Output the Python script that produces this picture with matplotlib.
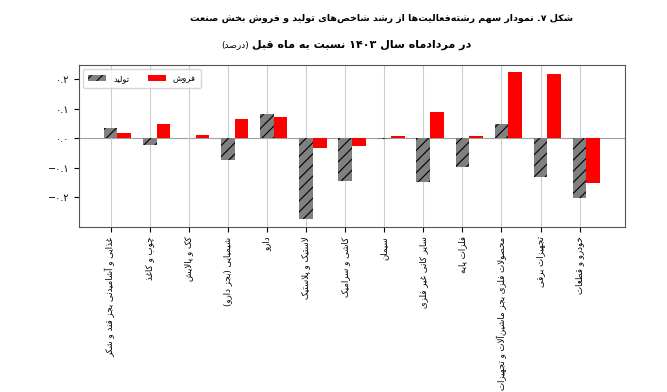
import re
import numpy as np
import matplotlib
matplotlib.use('Agg')
from matplotlib import pyplot as plt

# داده‌ها (سهم از رشد، درصد)
categories = ['غذایی و آشامیدنی بجز قند و شکر', 'چوب و کاغذ', 'کک و پالایش',
              'شیمیایی (بجز دارو)', 'دارو', 'لاستیک و پلاستیک', 'کاشی و سرامیک',
              'سیمان', 'سایر کانی غیر فلزی', 'فلزات پایه',
              'محصولات فلزی بجز ماشین‌آلات و تجهیزات', 'تجهیزات برقی', 'خودرو و قطعات']
production = [0.033, -0.024, 0.0, -0.073, 0.082, -0.274, -0.144,
              -0.002, -0.149, -0.098, 0.049, -0.131, -0.201]
sales = [0.017, 0.049, 0.009, 0.065, 0.070, -0.032, -0.026,
         0.008, 0.088, 0.006, 0.222, 0.217, -0.151]
ytick_vals = [-0.2, -0.1, 0.0, 0.1, 0.2]
ytick_labels = ['−۰.۲', '−۰.۱', '۰.۰', '۰.۱', '۰.۲']

title1 = 'شکل ۷. نمودار سهم رشته‌فعالیت‌ها از رشد شاخص‌های تولید و فروش بخش صنعت'
title2 = 'در مردادماه سال ۱۴۰۳ نسبت به ماه قبل'
title2_unit = '(درصد)'

# شکل‌دهی حروف فارسی (matplotlib راست‌به‌چپ را پشتیبانی نمی‌کند)
FORMS = {
    'آ': (0xFE81, 0xFE82), 'أ': (0xFE83, 0xFE84), 'إ': (0xFE87, 0xFE88),
    'ا': (0xFE8D, 0xFE8E), 'ب': (0xFE8F, 0xFE90, 0xFE91, 0xFE92),
    'ت': (0xFE95, 0xFE96, 0xFE97, 0xFE98), 'ث': (0xFE99, 0xFE9A, 0xFE9B, 0xFE9C),
    'ج': (0xFE9D, 0xFE9E, 0xFE9F, 0xFEA0), 'ح': (0xFEA1, 0xFEA2, 0xFEA3, 0xFEA4),
    'خ': (0xFEA5, 0xFEA6, 0xFEA7, 0xFEA8), 'د': (0xFEA9, 0xFEAA), 'ذ': (0xFEAB, 0xFEAC),
    'ر': (0xFEAD, 0xFEAE), 'ز': (0xFEAF, 0xFEB0), 'س': (0xFEB1, 0xFEB2, 0xFEB3, 0xFEB4),
    'ش': (0xFEB5, 0xFEB6, 0xFEB7, 0xFEB8), 'ص': (0xFEB9, 0xFEBA, 0xFEBB, 0xFEBC),
    'ض': (0xFEBD, 0xFEBE, 0xFEBF, 0xFEC0), 'ط': (0xFEC1, 0xFEC2, 0xFEC3, 0xFEC4),
    'ظ': (0xFEC5, 0xFEC6, 0xFEC7, 0xFEC8), 'ع': (0xFEC9, 0xFECA, 0xFECB, 0xFECC),
    'غ': (0xFECD, 0xFECE, 0xFECF, 0xFED0), 'ف': (0xFED1, 0xFED2, 0xFED3, 0xFED4),
    'ق': (0xFED5, 0xFED6, 0xFED7, 0xFED8), 'ل': (0xFEDD, 0xFEDE, 0xFEDF, 0xFEE0),
    'م': (0xFEE1, 0xFEE2, 0xFEE3, 0xFEE4), 'ن': (0xFEE5, 0xFEE6, 0xFEE7, 0xFEE8),
    'ه': (0xFEE9, 0xFEEA, 0xFEEB, 0xFEEC), 'و': (0xFEED, 0xFEEE),
    'پ': (0xFB56, 0xFB57, 0xFB58, 0xFB59), 'چ': (0xFB7A, 0xFB7B, 0xFB7C, 0xFB7D),
    'ژ': (0xFB8A, 0xFB8B), 'ک': (0xFB8E, 0xFB8F, 0xFB90, 0xFB91),
    'گ': (0xFB92, 0xFB93, 0xFB94, 0xFB95), 'ی': (0xFBFC, 0xFBFD, 0xFBFE, 0xFBFF),
}
LAM_ALEF = {'ا': (0xFEFB, 0xFEFC), 'آ': (0xFEF5, 0xFEF6),
            'أ': (0xFEF7, 0xFEF8), 'إ': (0xFEF9, 0xFEFA)}


def dual(c):
    return c in FORMS and len(FORMS[c]) == 4


def fa(text):
    out = []
    n = len(text)
    i = 0
    while i < n:
        c = text[i]
        if c not in FORMS:
            if c != '\u200c':
                out.append(c)
            i += 1
            continue
        join_prev = i > 0 and dual(text[i-1])
        if c == 'ل' and i+1 < n and text[i+1] in LAM_ALEF:
            f = LAM_ALEF[text[i+1]]
            out.append(chr(f[1] if join_prev else f[0]))
            i += 2
            continue
        join_next = dual(c) and i+1 < n and text[i+1] in FORMS
        f = FORMS[c]
        if join_prev and join_next:
            g = f[3]
        elif join_prev:
            g = f[1]
        elif join_next:
            g = f[2]
        else:
            g = f[0]
        out.append(chr(g))
        i += 1
    s = ''.join(out)[::-1]
    s = re.sub('[۰-۹0-9]+', lambda m: m.group(0)[::-1], s)
    return s.translate(str.maketrans('()', ')('))


plt.rcParams['font.family'] = ['DejaVu Sans']
plt.rcParams['hatch.linewidth'] = 0.8

fig = plt.figure(figsize=(6.67, 3.92), dpi=100)
ax = fig.add_axes([0.1184, 0.4217, 0.8186, 0.4125])

x = np.arange(len(categories))
w = 0.35
ax.bar(x, production, w, color='gray', edgecolor='black', linewidth=0,
       hatch='///', label=fa('تولید'))
ax.bar(x + w, sales, w, color='red', label=fa('فروش'))

ax.axhline(0, color='#a0a0a0', lw=0.8, zorder=0)
ax.grid(axis='x', color='#cccccc', lw=0.8)
ax.set_axisbelow(True)

ax.set_xticks(x, [fa(c) for c in categories], rotation=90, fontsize=6.2)
ax.set_yticks(ytick_vals, ytick_labels, fontsize=7)
for s in ax.spines.values():
    s.set_color('#555555')

ax.legend(loc='upper left', ncol=2, fontsize=6, handlelength=2.2,
          columnspacing=2.2, borderpad=0.6)

fig.text(381/667, 1 - 18/392, fa(title1), ha='center', va='center',
         fontsize=6.8, fontweight='bold')
fig.text(252/667, 1 - 45/392, fa(title2), ha='left', va='center',
         fontsize=8, fontweight='bold')
fig.text(249/667, 1 - 45/392, fa(title2_unit), ha='right', va='center',
         fontsize=6.5)

fig.savefig('out.png', dpi=100)
